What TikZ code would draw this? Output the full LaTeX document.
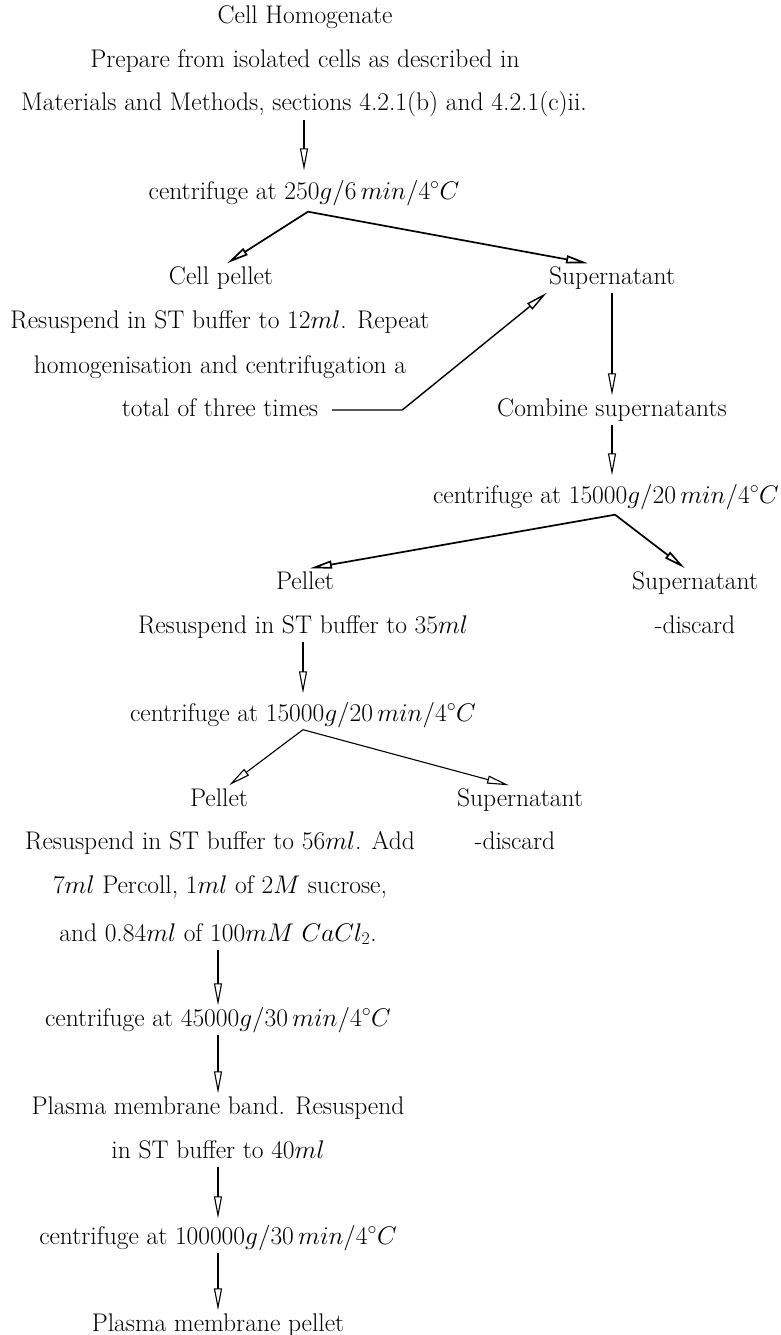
\RequirePackage{fix-cm}
\documentclass[tikz,border=0pt]{standalone}
\usetikzlibrary{arrows.meta,calc}
\tikzset{
  txt/.style={inner sep=2pt,font=\fontsize{25.5}{44}\selectfont,
    text height=18.5pt,text depth=6.5pt},
  arr/.style={-{Triangle[open,length=22pt,width=8pt]},line width=1.1pt},
  arr_thick/.style={arr,line width=1.7pt},
}

\begin{document}
\begin{tikzpicture}[x=1pt,y=-1pt]
    \path[use as bounding box,fill=white] (0,0) rectangle (780,1335);
    % top: homogenate and first spin
    \node[txt] (home) at (305,18) {Cell Homogenate};
    \node[txt] (prep) at (305,62) {Prepare from isolated cells as described in};
    \node[txt] (mat) at (304,105) {Materials and Methods, sections 4.2.1(b) and 4.2.1(c)ii.};
    \node[txt] (spin1) at (304,193) {centrifuge at $250g/6\,min/4^\circ C$};
    \node[txt] (cellp) at (221,278) {Cell pellet};
    \node[txt] (resus1) at (220,322) {Resuspend in ST buffer to 12$ml$. Repeat};
    \node[txt] (homog) at (220,367) {homogenisation and centrifugation a};
    \node[txt] (total) at (220,410) {total of three times};
    \node[txt] (sup1) at (612,278) {Supernatant};
    \node[txt] (comb) at (612,410) {Combine supernatants};
    % second and third spins
    \node[txt] (spin2) at (606,497) {centrifuge at $15000g/20\,min/4^\circ C$};
    \node[txt] (pel2) at (305,583) {Pellet};
    \node[txt] (resus2) at (303,627) {Resuspend in ST buffer to 35$ml$};
    \node[txt] (sup2) at (695,583) {Supernatant};
    \node[txt] (disc2) at (695,627) {-discard};
    \node[txt] (spin3) at (303,715) {centrifuge at $15000g/20\,min/4^\circ C$};
    \node[txt] (pel3) at (219,800) {Pellet};
    \node[txt] (resus3) at (220,843) {Resuspend in ST buffer to 56$ml$. Add};
    \node[txt] (percoll) at (220,887) {7$ml$ Percoll, 1$ml$ of 2$M$ sucrose,};
    \node[txt] (cacl) at (218,935) {and 0.84$ml$ of 100$mM$ $CaCl_2$.};
    \node[txt] (sup3) at (520,800) {Supernatant};
    \node[txt] (disc3) at (515,843) {-discard};
    % gradient and final pellet
    \node[txt] (spin4) at (218,1020) {centrifuge at $45000g/30\,min/4^\circ C$};
    \node[txt] (band) at (218,1108) {Plasma membrane band. Resuspend};
    \node[txt] (buf40) at (218,1152) {in ST buffer to 40$ml$};
    \node[txt] (spin5) at (218,1238) {centrifuge at $100000g/30\,min/4^\circ C$};
    \node[txt] (final) at (218,1325) {Plasma membrane pellet};
    \coordinate (fork1) at ([shift={(4,4)}]spin1.south);
    \coordinate (fork2) at ([shift={(9,3)}]spin2.south);
    \draw[arr,shorten >=8pt](mat.south)--(spin1.north);
    \draw[arr_thick](fork1)--([xshift=6]cellp.north);\draw[arr_thick](fork1)--([xshift=-24]sup1.north);
    \draw[arr,line width=1.4pt]([xshift=12]total.east)--++(70,0)--(sup1.south west);
    \draw[arr](sup1.south)--(comb.north);
    \draw[arr,shorten >=7pt](comb.south)--(comb.south |- spin2.north);
    \draw[arr_thick](fork2)--([xshift=5]pel2.north);\draw[arr_thick](fork2)--([xshift=-10]sup2.north);
    \draw[arr,shorten >=7pt](resus2.south)--(spin3.north);
    \draw[arr](spin3.south)--([xshift=10]pel3.north);\draw[arr](spin3.south)--([xshift=-11]sup3.north);
    \draw[arr](cacl.south)--(spin4.north);\draw[arr](spin4.south)--(band.north);
    \draw[arr,shorten >=5pt](buf40.south)--(spin5.north);\draw[arr](spin5.south)--(final.north);
  \end{tikzpicture}
\end{document}
